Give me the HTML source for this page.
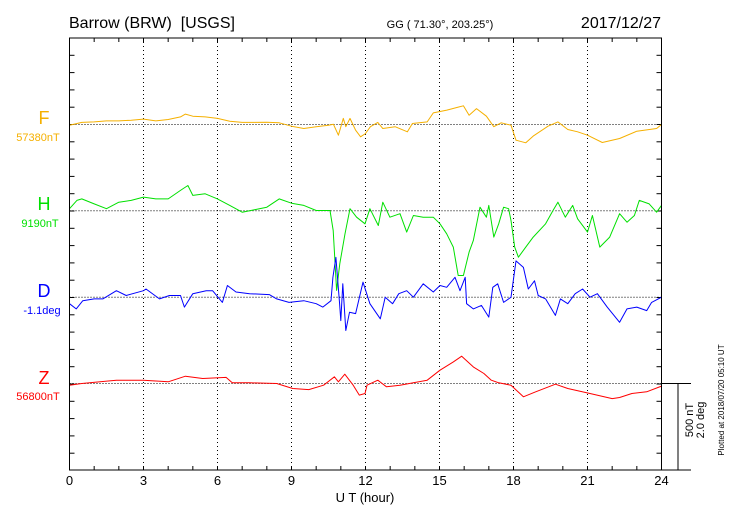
<!DOCTYPE html>
<html><head><meta charset="utf-8"><style>
body{margin:0;background:#fff;}
svg{display:block;font-family:"Liberation Sans",sans-serif;}
</style></head><body>
<svg id="chart" width="730" height="520" viewBox="0 0 730 520">
<text x="69" y="28" font-size="16">Barrow (BRW)&#160; [USGS]</text>
<text x="440" y="28" font-size="11" text-anchor="middle">GG ( 71.30°, 203.25°)</text>
<text x="661" y="28" font-size="16" text-anchor="end">2017/12/27</text>
<text x="365" y="502" font-size="13" text-anchor="middle">U T (hour)</text>
<text x="44" y="124" font-size="18" fill="#f5b000" text-anchor="middle">F</text>
<text x="38" y="141" font-size="11" fill="#f5b000" text-anchor="middle">57380nT</text>
<text x="44" y="210" font-size="18" fill="#00e000" text-anchor="middle">H</text>
<text x="40" y="227" font-size="11" fill="#00e000" text-anchor="middle">9190nT</text>
<text x="44" y="297" font-size="18" fill="#0000ff" text-anchor="middle">D</text>
<text x="42" y="314" font-size="11" fill="#0000ff" text-anchor="middle">-1.1deg</text>
<text x="44" y="384" font-size="18" fill="#ff0000" text-anchor="middle">Z</text>
<text x="38" y="400" font-size="11" fill="#ff0000" text-anchor="middle">56800nT</text>
<text transform="translate(693,420) rotate(-90)" font-size="11" text-anchor="middle">500 nT</text>
<text transform="translate(704,420) rotate(-90)" font-size="11" text-anchor="middle">2.0 deg</text>
<text transform="translate(724,400) rotate(-90)" font-size="8" text-anchor="middle">Plotted at 2018/07/20 05:10 UT</text>
</svg>
<script>
const xTicks = [0,3,6,9,12,15,18,21,24];
const hF = [0,0.5,1,1.5,2,2.5,3,3.5,4,4.5,4.7,5,5.5,6,6.5,7,8,8.5,9,9.5,10,10.5,10.7,10.9,11.1,11.2,11.37,11.6,11.8,12,12.2,12.5,12.7,13.2,13.7,13.9,14.5,14.75,15.3,15.8,15.97,16.2,16.5,16.9,17.2,17.5,17.9,18.1,18.5,18.8,19.4,19.8,20.2,20.6,21,21.6,22.3,23,23.8,24];
const vF = [-4,12,15,21,21,25,31,21,29,44,60,48,44,35,19,12,13,10,-10,-23,-13,-4,2,-62,35,-13,35,-33,-71,-52,-13,12,-23,-13,-42,6,15,67,83,102,108,54,92,48,-13,10,-4,-91,-106,-67,-10,15,-29,-42,-62,-104,-81,-39,-23,0];
const hH = [0,0.3,0.5,1,1.5,2,2.5,3,3.5,4,4.5,4.8,5,5.5,6,6.5,7,7.5,8,8.5,9,9.5,10,10.56,10.69,10.83,10.96,11.17,11.37,11.64,11.98,12.18,12.52,12.7,12.99,13.4,13.67,13.94,14.34,14.75,15.02,15.29,15.56,15.76,15.97,16.2,16.37,16.64,16.9,17,17.2,17.4,17.6,17.8,17.9,18.05,18.2,18.5,18.8,19.3,19.6,19.8,20.1,20.4,20.6,21,21.2,21.5,21.9,22.3,22.6,22.9,23.1,23.5,23.8,24];
const vH = [12,60,69,40,12,50,60,79,69,69,118,146,89,98,69,31,-8,6,21,69,44,31,2,2,-114,-460,-306,-133,12,-37,-75,12,-85,50,-37,-17,-123,-27,-37,-37,-75,-133,-210,-374,-374,-239,-172,21,-37,31,-152,-75,21,12,-56,-210,-268,-210,-152,-75,2,50,-37,31,-46,-123,-27,-210,-152,-17,-66,-27,60,40,-8,31];
const hD = [0,0.27,0.54,1,1.35,1.9,2.3,3,3.1,3.65,4.05,4.5,4.66,5,5.54,5.8,6.2,6.4,6.75,7.3,8.1,8.4,8.9,9.5,10,10.27,10.6,10.68,10.8,10.95,11,11.08,11.2,11.35,11.6,11.9,12.18,12.6,12.8,13.1,13.35,13.67,13.94,14.34,14.75,15.02,15.29,15.63,15.83,16.04,16.1,16.37,16.7,17,17.16,17.36,17.6,17.9,18.1,18.4,18.6,18.85,19,19.3,19.7,19.9,20.2,20.5,20.8,21.1,21.4,21.8,22.3,22.6,23,23.4,23.6,24];
const vD = [-0.15,-0.27,-0.08,-0.04,-0.04,0.15,0.04,0.15,0.19,-0.04,0.04,0.04,-0.23,0.08,0.15,0.15,-0.12,0.27,0.12,0.08,0.06,-0.04,-0.12,-0.08,-0.15,-0.23,-0.08,0.46,0.92,-0.15,-0.54,0.31,-0.77,-0.35,-0.38,0.35,-0.15,-0.5,0,-0.15,0.08,0.15,0,0.31,0.12,0.27,0.23,0.46,0.15,0.46,-0.15,-0.27,-0.19,-0.46,0.23,0.31,-0.12,0,0.84,0.69,0.19,0.38,0.04,-0.04,-0.42,-0.04,-0.15,0.08,0.19,0,0.08,-0.23,-0.58,-0.27,-0.23,-0.31,-0.12,0];
const hZ = [0,0.5,1.9,3,4,4.7,5.4,6.35,6.6,7.3,8.4,9.05,9.7,10.3,10.74,10.9,11.16,11.5,11.75,11.98,12.06,12.5,12.85,13.4,13.94,14.5,15.02,15.56,15.9,16.37,16.8,17.1,17.4,17.9,18.4,18.9,19.7,20.2,21.1,22,22.3,22.8,23.4,24];
const vZ = [-10,0,19,19,10,42,29,35,4,4,0,-29,-35,-10,39,10,54,-10,-67,-58,-10,19,-19,-10,4,19,77,125,158,96,58,19,4,-10,-77,-48,-4,-29,-58,-87,-81,-58,-48,-15];

const X0=69.5, X1=661.5, Y0=38, Y1=470;
const NS='http://www.w3.org/2000/svg';
const svg=document.getElementById('chart');
function xs(h){return X0+(X1-X0)*h/24;}
const pxPerNT=86.5/500, pxPerDeg=86.5/2.0;
function mk(t,a){const e=document.createElementNS(NS,t);for(const k in a)e.setAttribute(k,a[k]);svg.appendChild(e);return e;}

for(let i=1;i<8;i++){const g=mk('line',{x1:xs(xTicks[i]),x2:xs(xTicks[i]),y1:Y0,y2:Y1,stroke:'#000','stroke-width':1,'stroke-dasharray':'1,3'});

}
const bases=[124.5,210.8,297.2,383.5];
bases.forEach((b,i)=>{const l=mk('line',{x1:X0,x2:X1,y1:b,y2:b,stroke:'#000','stroke-width':1,'stroke-dasharray':'1,2'});

});
for(let h=1;h<24;h++){
 const t1=mk('line',{x1:xs(h),x2:xs(h),y1:Y0,y2:Y0+4,stroke:'#000'});
 
 
 const t2=mk('line',{x1:xs(h),x2:xs(h),y1:Y1,y2:Y1-4,stroke:'#000'});
 
 
}
for(let y=Y0+17.3;y<Y1-1;y+=17.3){
 const a=mk('line',{x1:X0,x2:X0+5,y1:y,y2:y,stroke:'#000'});
 
 
 const b=mk('line',{x1:X1,x2:X1-5,y1:y,y2:y,stroke:'#000'});
 
 
}
xTicks.forEach(h=>{const t=mk('text',{x:xs(h),y:485,'font-size':13,'text-anchor':'middle'});t.textContent=h;

});
function series(hs,vs,base,scale,color,name){
 const d=hs.map((h,i)=>(i?'L':'M')+xs(h).toFixed(1)+','+(base-vs[i]*scale).toFixed(1)).join('');
 const p=mk('path',{d:d,fill:'none',stroke:color,'stroke-width':1,'stroke-linejoin':'round'});
 
 
}
series(hF,vF,bases[0],pxPerNT,'#f5b000','f-series-line');
series(hH,vH,bases[1],pxPerNT,'#00e000','h-series-line');
series(hD,vD,bases[2],pxPerDeg,'#0000ff','d-series-line');
series(hZ,vZ,bases[3],pxPerNT,'#ff0000','z-series-line');
const fr=mk('rect',{x:X0,y:Y0,width:X1-X0,height:Y1-Y0,fill:'none',stroke:'#000','stroke-width':1});


const s1=mk('line',{x1:X1,x2:691,y1:bases[3],y2:bases[3],stroke:'#000'});


const s2=mk('line',{x1:X1,x2:691,y1:Y1,y2:Y1,stroke:'#000'});


const s3=mk('line',{x1:678,x2:678,y1:bases[3],y2:Y1,stroke:'#000'});


</script>
</body></html>
